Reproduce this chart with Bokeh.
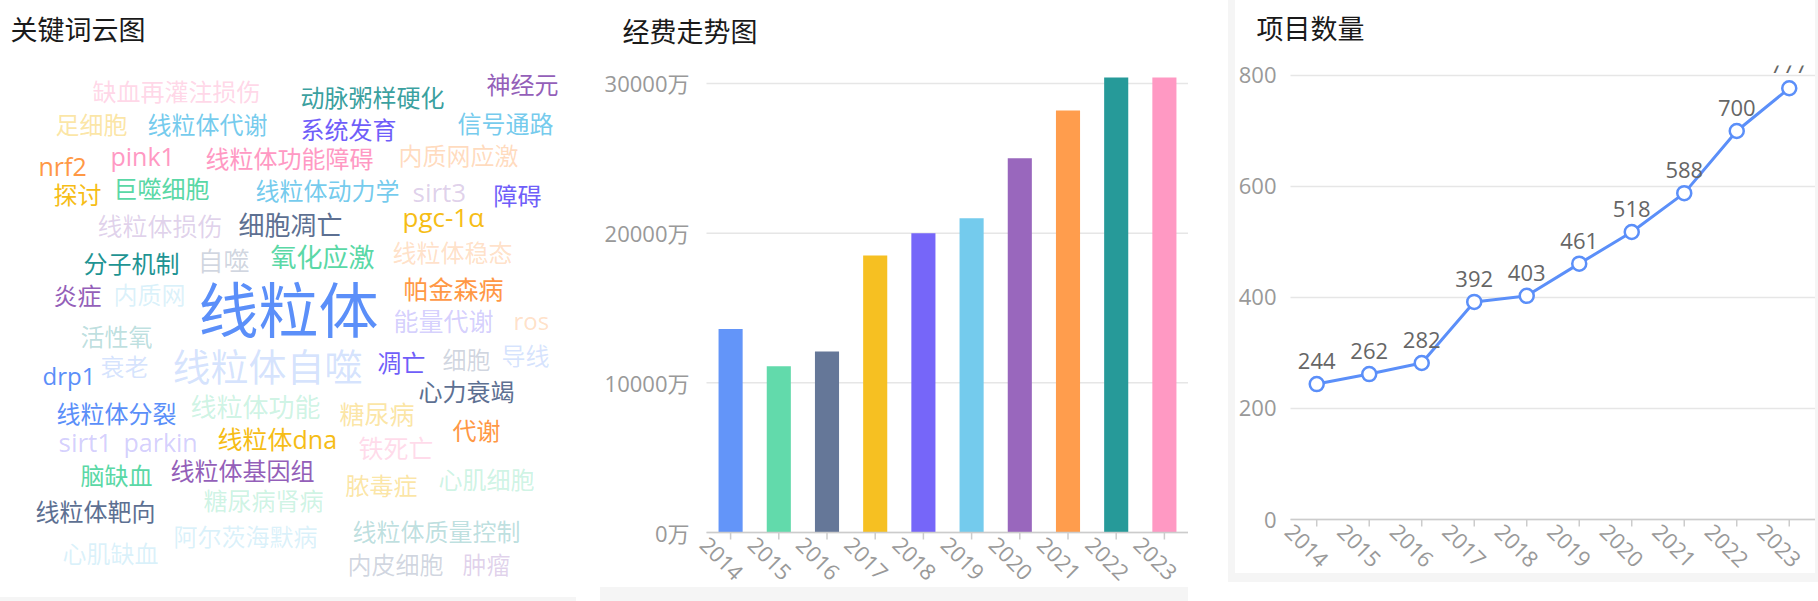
import math
from bokeh.plotting import figure
from bokeh.models import ColumnDataSource, Range1d, FixedTicker, Spacer
from bokeh.layouts import row, column
from bokeh.core.properties import value
from bokeh.embed import file_html
from bokeh.resources import INLINE

# ------------------------------------------------------------------ data
years = ["2014", "2015", "2016", "2017", "2018", "2019", "2020", "2021", "2022", "2023"]

# 经费 (万)
funding = [13600, 11100, 12100, 18500, 20000, 21000, 25000, 28200, 30400, 30400]
funding_ticks = [0, 10000, 20000, 30000]
funding_tick_labels = ["0万", "10000万", "20000万", "30000万"]

# 项目数量
projects = [244, 262, 282, 392, 403, 461, 518, 588, 700, 777]
project_ticks = [0, 200, 400, 600, 800]

# 关键词 and their weights
keywords = ["缺血再灌注损伤", "动脉粥样硬化", "神经元", "足细胞", "线粒体代谢", "系统发育", "信号通路",
            "nrf2", "pink1", "线粒体功能障碍", "内质网应激", "探讨", "巨噬细胞", "线粒体动力学",
            "sirt3", "障碍", "线粒体损伤", "细胞凋亡", "pgc-1α", "分子机制", "自噬", "氧化应激",
            "线粒体稳态", "线粒体", "炎症", "内质网", "帕金森病", "能量代谢", "ros", "活性氧",
            "线粒体自噬", "凋亡", "细胞", "导线", "衰老", "drp1", "心力衰竭", "线粒体分裂",
            "线粒体功能", "糖尿病", "sirt1", "parkin", "线粒体dna", "铁死亡", "代谢", "脑缺血",
            "线粒体基因组", "脓毒症", "心肌细胞", "糖尿病肾病", "线粒体靶向", "阿尔茨海默病",
            "线粒体质量控制", "心肌缺血", "内皮细胞", "肿瘤"]
keyword_weights = [10, 10, 10, 10, 10, 10, 10,
                   12, 12, 10, 10, 10, 10, 10,
                   15, 10, 12, 15, 15, 10, 15, 15,
                   10, 100, 10, 10, 12, 12, 10, 10,
                   45, 10, 10, 10, 10, 10, 10, 10,
                   15, 12, 15, 12, 12, 12, 10, 10,
                   10, 10, 10, 10, 10, 10,
                   10, 10, 10, 10]

# ------------------------------------------------------------------ styles / layout
BLUE, GREEN, SLATE, YELLOW = "#5B8FF9", "#5AD8A6", "#5D7092", "#F6BD16"
INDIGO, SKY, PURPLE, ORANGE = "#6F5EF9", "#6DC8EC", "#945FB9", "#FF9845"
TEAL, PINK = "#1E9493", "#FF99C3"
bar_colors = ["#6395F9", "#62DAAB", "#657798", "#F6C022", "#7666F9",
              "#74CBED", "#9967BD", "#FF9D4D", "#269A99", "#FF99C3"]

# word-cloud placement (left x, centre y in card pixels), colour and opacity
cloud_x = [92, 300, 486, 55, 147, 300, 457,
           38, 110, 205, 398, 53, 113, 255,
           412, 493, 97, 238, 402, 83, 197, 270,
           392, 198, 53, 113, 403, 393, 513, 80,
           172, 377, 442, 501, 100, 42, 418, 56,
           190, 339, 58, 123, 217, 358, 452, 80,
           170, 345, 438, 203, 35, 173,
           352, 62, 347, 462]
cloud_y = [91, 97, 84, 124, 124, 129, 123,
           165, 155, 158, 155, 194, 188, 190,
           191, 195, 225, 224, 216, 263, 260, 256,
           252, 309, 295, 294, 288, 320, 320, 336,
           365, 362, 359, 355, 366, 375, 391, 413,
           406, 413, 441, 441, 438, 447, 430, 475,
           470, 485, 479, 500, 511, 536,
           531, 553, 564, 564]
cloud_colors = [PINK, TEAL, PURPLE, YELLOW, SKY, INDIGO, SKY,
                ORANGE, PINK, PINK, ORANGE, YELLOW, GREEN, SKY,
                PURPLE, INDIGO, PURPLE, SLATE, YELLOW, TEAL, SLATE, GREEN,
                ORANGE, BLUE, PURPLE, SKY, ORANGE, INDIGO, ORANGE, TEAL,
                BLUE, INDIGO, SLATE, BLUE, BLUE, BLUE, SLATE, BLUE,
                GREEN, YELLOW, INDIGO, INDIGO, YELLOW, PINK, ORANGE, GREEN,
                PURPLE, YELLOW, GREEN, GREEN, SLATE, SKY,
                TEAL, SKY, SLATE, PURPLE]
cloud_alpha = [0.4, 0.9, 1, 0.4, 0.95, 1, 0.95,
               1, 1, 1, 0.35, 1, 1, 0.95,
               0.3, 1, 0.28, 1, 1, 1, 0.28, 1,
               0.3, 1, 1, 0.25, 1, 0.3, 0.3, 0.3,
               0.25, 1, 0.28, 0.25, 0.25, 1, 1, 1,
               0.3, 0.4, 0.3, 0.3, 1, 0.35, 1, 1,
               1, 0.4, 0.3, 0.3, 1, 0.25,
               0.3, 0.25, 0.28, 0.28]

CJK = "Noto Sans CJK SC"
MIXED = "Open Sans, Noto Sans CJK SC"
GREY_BG = "#f5f5f5"
AXIS_GREY = "#cccccc"
GRID_GREY = "#e6e6e6"
LABEL_GREY = "#999999"
TICK_PX = 7
LEFT_PAD_PX = 12   # room inside the frame for the first slanted year label

n = len(years)
xpos = [i + 0.5 for i in range(n)]   # category centres on the linear x scale


def style_title(p, offset):
    p.title.text_font = CJK
    p.title.text_font_size = "27px"
    p.title.text_font_style = "normal"
    p.title.text_color = "#1a1a1a"
    p.title.align = "left"
    p.title.offset = offset
    p.title.standoff = 10


def strip(w, h, color):
    return Spacer(width=w, height=h, margin=0, styles={"background-color": color})


def style_value_axis(p, ticks, standoff):
    ax = p.yaxis[0]
    ax.ticker = FixedTicker(ticks=ticks)
    ax.axis_line_color = None
    ax.major_tick_line_color = None
    ax.minor_tick_line_color = None
    ax.major_tick_out = 0
    ax.major_tick_in = 0
    ax.major_label_standoff = standoff
    ax.major_label_text_font = MIXED
    ax.major_label_text_font_size = "22px"
    ax.major_label_text_color = LABEL_GREY
    p.grid.visible = False
    # horizontal grid lines spanning the category band only
    gsrc = ColumnDataSource(dict(y=ticks, x0=[0] * len(ticks), x1=[n] * len(ticks)))
    p.segment(x0="x0", y0="y", x1="x1", y1="y", line_color=GRID_GREY, line_width=1.5, source=gsrc)


def category_axis(p, src, px_per_unit, x_off):
    # axis line, ticks and slanted year labels drawn at y = 0
    p.segment(x0=0, y0=0, x1=n, y1=0, line_color=AXIS_GREY, line_width=1.5)
    p.segment(x0="x", y0="zero", x1="x", y1=-TICK_PX / px_per_unit,
              line_color=AXIS_GREY, line_width=1.5, source=src)
    p.text(x="x", y="zero", text="year", angle=-math.pi / 4, x_offset=x_off, y_offset=26,
           text_align="center", text_baseline="middle", text_font=value(MIXED),
           text_font_size="22px", text_color=LABEL_GREY, source=src)


# ------------------------------------------------------------------ word cloud
WC_TOP = 52
wc = figure(width=576, height=597, title="关键词云图",
            x_range=Range1d(0, 576), y_range=Range1d(597, WC_TOP),
            x_axis_location=None, y_axis_location=None,
            min_border_left=0, min_border_right=0, min_border_bottom=0, min_border_top=WC_TOP,
            toolbar_location=None, output_backend="svg", outline_line_color=None)
style_title(wc, 10)
wc.grid.visible = False
sizes = ["%.0fpx" % (24 + 0.4 * (w - 10)) for w in keyword_weights]
wc_src = ColumnDataSource(dict(x=cloud_x, y=cloud_y, word=keywords, size=sizes,
                               color=cloud_colors, alpha=cloud_alpha))
wc.text(x="x", y="y", text="word", text_font_size="size", text_color="color",
        text_alpha="alpha", text_align="left", text_baseline="middle",
        text_font=value(MIXED), source=wc_src)

# ------------------------------------------------------------------ bar chart
BAR_W, BAR_H, BAR_LEFT = 588, 587, 106
BAR_FRAME_TOP, BAR_MAX_PX, BAR_ZERO = 54, 77, 532
bar_ppu = (BAR_ZERO - BAR_MAX_PX) / max(funding)
bar_band = (BAR_W - BAR_LEFT) / n
bc = figure(width=BAR_W, height=BAR_H, title="经费走势图",
            x_range=Range1d(-LEFT_PAD_PX / bar_band, n),
            y_range=Range1d(-(BAR_H - BAR_ZERO) / bar_ppu,
                            max(funding) + (BAR_MAX_PX - BAR_FRAME_TOP) / bar_ppu),
            x_axis_location=None,
            min_border_left=BAR_LEFT - LEFT_PAD_PX, min_border_right=0,
            min_border_top=BAR_FRAME_TOP, min_border_bottom=0,
            toolbar_location=None, output_backend="svg", outline_line_color=None)
style_title(bc, -72)
bar_src = ColumnDataSource(dict(x=xpos, year=years, value=funding, color=bar_colors,
                                zero=[0] * n))
style_value_axis(bc, funding_ticks, 17 - LEFT_PAD_PX)
bc.yaxis.major_label_overrides = dict(zip(funding_ticks, funding_tick_labels))
bc.vbar(x="x", top="value", width=0.5, fill_color="color", line_color=None, source=bar_src)
category_axis(bc, bar_src, bar_ppu, -9)

# ------------------------------------------------------------------ line chart
LINE_W, LINE_LEFT, CARD3_H = 580, 54, 573
TITLE_H = 52                      # title strip above the plot
LINE_FRAME_TOP = 13               # plot area starts 65 px below the card top (clips the top label)
LINE_ZERO_PAGE, LINE_MAX = 519, 818
LINE_H = CARD3_H - TITLE_H
line_ppu = (LINE_ZERO_PAGE - TITLE_H - LINE_FRAME_TOP) / LINE_MAX
line_band = (LINE_W - LINE_LEFT) / n

lt = figure(width=LINE_W, height=TITLE_H, title="项目数量",
            x_range=Range1d(0, 1), y_range=Range1d(0, 1),
            x_axis_location=None, y_axis_location=None,
            min_border_left=0, min_border_right=0, min_border_top=48, min_border_bottom=0,
            toolbar_location=None, output_backend="svg", outline_line_color=None)
style_title(lt, -22)
lt.grid.visible = False

lc = figure(width=LINE_W, height=LINE_H,
            x_range=Range1d(-LEFT_PAD_PX / line_band, n),
            y_range=Range1d(-(CARD3_H - LINE_ZERO_PAGE) / line_ppu, LINE_MAX),
            x_axis_location=None,
            min_border_left=LINE_LEFT - LEFT_PAD_PX, min_border_right=0,
            min_border_top=LINE_FRAME_TOP, min_border_bottom=0,
            toolbar_location=None, output_backend="svg", outline_line_color=None)
line_src = ColumnDataSource(dict(x=xpos, year=years, count=projects,
                                 label=[str(v) for v in projects], zero=[0] * n))
style_value_axis(lc, project_ticks, 14 - LEFT_PAD_PX)
category_axis(lc, line_src, line_ppu, -10)
lc.line(x="x", y="count", line_color=BLUE, line_width=3, source=line_src)
lc.scatter(x="x", y="count", size=14, fill_color="white", line_color=BLUE,
           line_width=2.5, source=line_src)
lc.text(x="x", y="count", text="label", y_offset=-23, text_align="center",
        text_baseline="middle", text_font=value(MIXED), text_font_size="22px",
        text_color="#666666", source=line_src)

# ------------------------------------------------------------------ page
col1 = column(wc, strip(576, 4, GREY_BG), margin=0, spacing=0)
col2 = column(bc, strip(588, 14, GREY_BG), margin=0, spacing=0)
card3 = column(row(strip(7, CARD3_H, GREY_BG), column(lt, lc, margin=0, spacing=0),
                   strip(3, CARD3_H, GREY_BG), margin=0, spacing=0),
               strip(590, 9, GREY_BG), strip(590, 19, "#ffffff"), margin=0, spacing=0)
p = row(col1, strip(24, 601, "#ffffff"), col2, strip(40, 601, "#ffffff"), card3,
        margin=0, spacing=0)

open("out.html", "w").write(file_html(p, INLINE))
